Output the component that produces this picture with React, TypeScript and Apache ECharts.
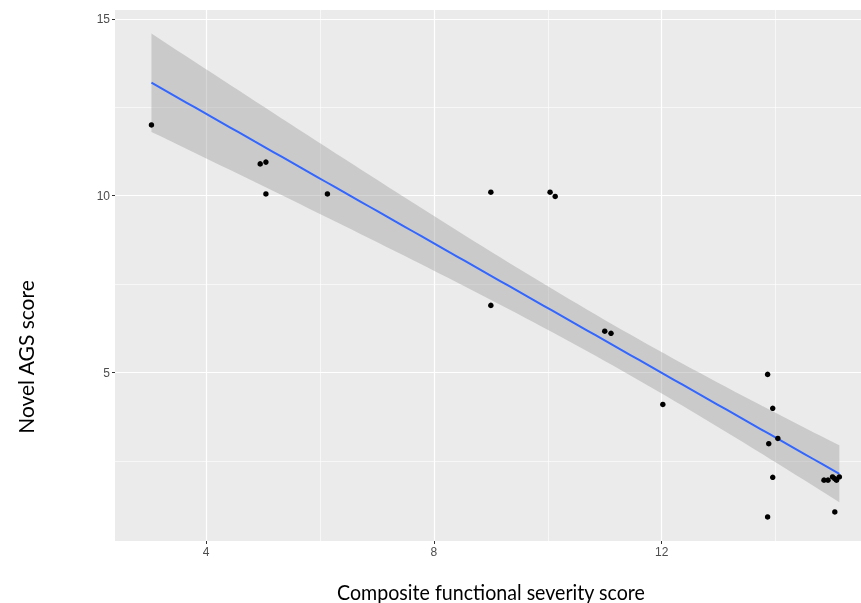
import React, { useEffect, useRef } from "react";
import * as echarts from "echarts";

const xValues = [
  3.04, 4.95, 5.05, 5.05, 6.13, 9.0, 10.04, 10.13, 9.0, 11.0, 11.11, 12.02, 13.86,
  13.95, 14.04, 13.88, 13.95, 13.86, 14.85, 14.92, 15.0, 15.04, 15.07, 15.12, 15.04,
];
const yValues = [
  12.0, 10.9, 10.95, 10.05, 10.05, 10.1, 10.1, 9.98, 6.9, 6.17, 6.11, 4.1, 4.95,
  3.99, 3.14, 2.99, 2.04, 0.92, 1.96, 1.96, 2.05, 2.0, 1.96, 2.05, 1.06,
];

const xTickValues = [4, 8, 12];
const yTickValues = [5, 10, 15];
const xMinorGrid = [2, 6, 10, 14];
const yMinorGrid = [2.5, 7.5, 12.5];

const xTitle = "Composite functional severity score";
const yTitle = "Novel AGS score";

// Linear model fit (as geom_smooth(method = "lm")) with 95% confidence band
function fitLinear(xs: number[], ys: number[]) {
  const n = xs.length;
  const xbar = xs.reduce((a, b) => a + b, 0) / n;
  const ybar = ys.reduce((a, b) => a + b, 0) / n;
  let sxx = 0;
  let sxy = 0;
  for (let i = 0; i < n; i++) {
    sxx += (xs[i] - xbar) ** 2;
    sxy += (xs[i] - xbar) * (ys[i] - ybar);
  }
  const b = sxy / sxx;
  const a = ybar - b * xbar;
  let rss = 0;
  for (let i = 0; i < n; i++) rss += (ys[i] - (a + b * xs[i])) ** 2;
  const s = Math.sqrt(rss / (n - 2));
  const t = 2.0687; // t(0.975, df = 23)
  const lo = Math.min(...xs);
  const hi = Math.max(...xs);
  const steps = 80;
  const fit: number[][] = [];
  const upper: number[][] = [];
  const lower: number[][] = [];
  for (let k = 0; k < steps; k++) {
    const x = lo + ((hi - lo) * k) / (steps - 1);
    const yh = a + b * x;
    const se = s * Math.sqrt(1 / n + (x - xbar) ** 2 / sxx);
    fit.push([x, yh]);
    upper.push([x, yh + t * se]);
    lower.push([x, yh - t * se]);
  }
  return { fit, upper, lower };
}

export default function App() {
  const ref = useRef<HTMLDivElement>(null);

  useEffect(() => {
    if (!ref.current) return;
    const chart = echarts.init(ref.current, undefined, { renderer: "svg" });
    const { fit, upper, lower } = fitLinear(xValues, yValues);
    const bandPoints = [...upper, ...lower.slice().reverse()];

    const gridLine = (w: number) => ({ color: "#ffffff", width: w, type: "solid" as const });

    chart.setOption({
      animation: false,
      grid: {
        show: true,
        left: 115,
        right: 0,
        top: 10,
        bottom: 62,
        backgroundColor: "#EBEBEB",
        borderWidth: 0,
      },
      xAxis: {
        type: "value",
        min: 2.4,
        max: 15.5,
        axisLine: { show: false },
        splitLine: { show: false },
        axisTick: {
          show: true,
          length: 3,
          customValues: xTickValues,
          lineStyle: { color: "#333333", width: 1 },
        },
        axisLabel: {
          customValues: xTickValues,
          color: "#4D4D4D",
          fontSize: 12,
          fontFamily: "Liberation Sans, Arial, sans-serif",
          margin: 5,
        },
      },
      yAxis: {
        type: "value",
        min: 0.24,
        max: 15.25,
        axisLine: { show: false },
        splitLine: { show: false },
        axisTick: {
          show: true,
          length: 3,
          customValues: yTickValues,
          lineStyle: { color: "#333333", width: 1 },
        },
        axisLabel: {
          customValues: yTickValues,
          color: "#4D4D4D",
          fontSize: 12,
          fontFamily: "Liberation Sans, Arial, sans-serif",
          margin: 5,
        },
      },
      graphic: [
        {
          type: "text",
          x: 491,
          y: 592,
          scaleX: 0.935,
          style: {
            text: xTitle,
            font: "21px Lato, sans-serif",
            fill: "#000000",
            textAlign: "center",
            textVerticalAlign: "middle",
          },
        },
        {
          type: "text",
          x: 25,
          y: 357,
          rotation: Math.PI / 2,
          style: {
            text: yTitle,
            font: "21px Lato, sans-serif",
            fill: "#000000",
            textAlign: "center",
            textVerticalAlign: "middle",
          },
        },
      ],
      series: [
        {
          type: "line",
          name: "grid",
          data: [],
          silent: true,
          z: 1,
          markLine: {
            silent: true,
            symbol: "none",
            z: 1,
            label: { show: false },
            emphasis: { disabled: true },
            data: [
              ...xMinorGrid.map((v) => ({ xAxis: v, lineStyle: gridLine(0.6) })),
              ...yMinorGrid.map((v) => ({ yAxis: v, lineStyle: gridLine(0.6) })),
              ...xTickValues.map((v) => ({ xAxis: v, lineStyle: gridLine(1.2) })),
              ...yTickValues.map((v) => ({ yAxis: v, lineStyle: gridLine(1.2) })),
            ],
          },
        },
        {
          type: "custom",
          name: "ci",
          z: 2,
          silent: true,
          data: [[xValues[0], yValues[0]]],
          renderItem: (_params: any, api: any) => {
            const pts = bandPoints.map((p) => api.coord(p));
            return {
              type: "polygon",
              shape: { points: pts },
              style: { fill: "rgba(153,153,153,0.4)", stroke: "none" },
            };
          },
        },
        {
          type: "line",
          name: "fit",
          z: 3,
          data: fit,
          showSymbol: false,
          symbol: "none",
          lineStyle: { color: "#3366FF", width: 2 },
          silent: true,
        },
        {
          type: "scatter",
          name: "obs",
          z: 4,
          data: xValues.map((x, i) => [x, yValues[i]]),
          symbolSize: 5.5,
          itemStyle: { color: "#000000", opacity: 1 },
        },
      ],
    });
    return () => chart.dispose();
  }, []);

  return (
    <div
      ref={ref}
      style={{ position: "fixed", left: 0, top: 0, width: 861, height: 603 }}
    />
  );
}
